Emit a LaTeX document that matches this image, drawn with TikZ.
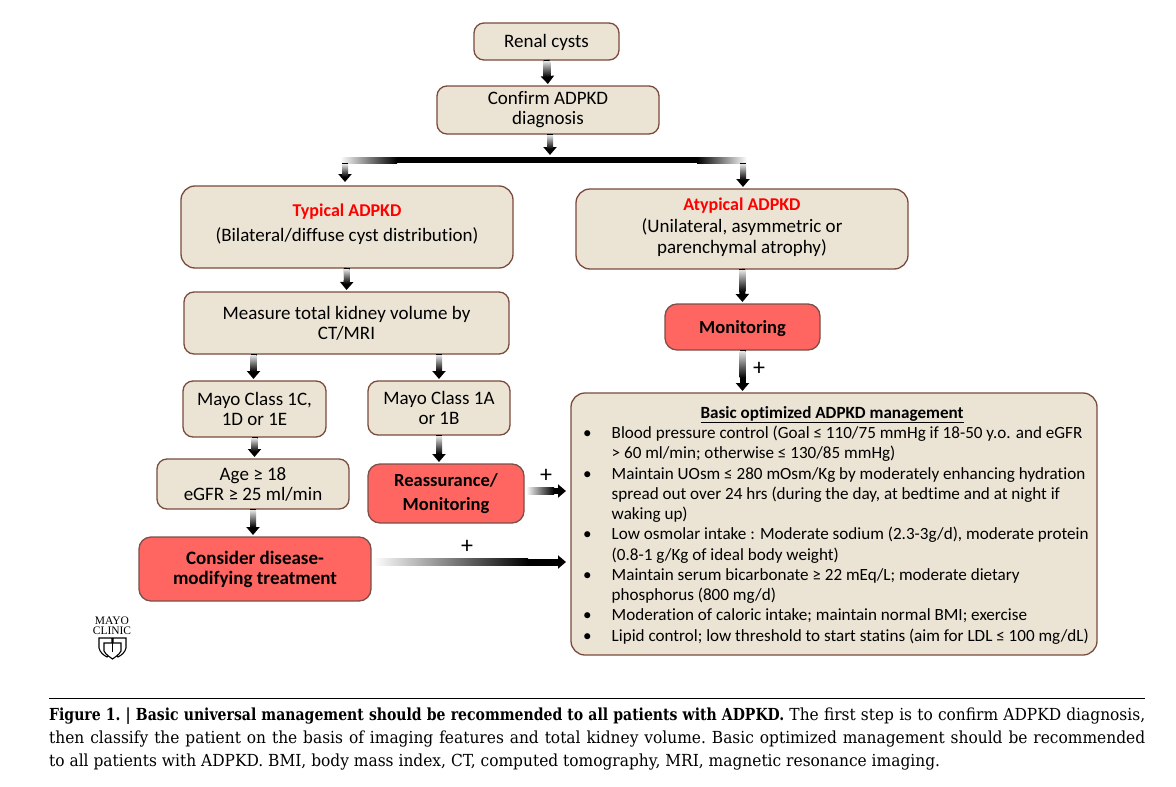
\documentclass[tikz,border=0pt]{standalone}
\usepackage{fontspec}
\setmainfont{Carlito}[Ligatures={NoCommon,NoContextual}]
\newfontfamily\capfont{DejaVu Serif}[FakeStretch=.93,BoldFeatures={FakeStretch=.845}]
\newfontfamily\logofont{Liberation Serif}
\usetikzlibrary{arrows.meta,calc}
\definecolor{boxfill}{HTML}{EBE4D4}
\definecolor{boxline}{HTML}{7A4A3C}
\definecolor{redfill}{HTML}{FF6661}
\definecolor{redline}{HTML}{7A5048}
\tikzset{
    box/.style={draw=boxline, fill=boxfill, line width=1.3pt, rounded corners=10pt, align=center,
        inner sep=0pt, outer sep=0pt, font=\fontsize{19}{20}\selectfont},
    bigbox/.style={box, rounded corners=14pt},
    redbox/.style={box, draw=redline, fill=redfill, rounded corners=12pt, font=\fontsize{18.5}{24}\selectfont\bfseries},
    flow/.style={line width=6pt, -{Triangle[width=13pt,length=8pt]}, shorten >=2pt},
    plus/.style={font=\fontsize{24}{24}\selectfont, inner sep=0pt},
    shield/.style={line width=1.1pt, fill=white}
}
\newcommand{\flowdown}[2]{
    \draw[flow] (#1) -- (#2);
    \shade[top color=gray!20, bottom color=black] ($(#1)+(-3,1)$) rectangle ($(#1)!.65!(#2)+(3,0)$);
}
\begin{document}
\begin{tikzpicture}[x=1pt, y=-1pt]
    \useasboundingbox (0,0) rectangle (1176,787);

    \node[box, minimum width=145, minimum height=37, text depth=2pt] (renal) at (546.5,41.5) {Renal cysts};
    \node[box, minimum width=222, minimum height=48] (confirm) at (548,110) {Confirm ADPKD\\diagnosis};
    \node[bigbox, minimum width=332, minimum height=82, text depth=8pt] (typical) at (347,227) {{\color{red}\bfseries\fontsize{18}{20}\selectfont Typical ADPKD}\\[5pt](Bilateral/diffuse cyst distribution)};
    \node[bigbox, minimum width=332, minimum height=80, text depth=6pt, font=\fontsize{19}{21.5}\selectfont] (atypical) at (742,229) {{\color{red}\bfseries\fontsize{18}{21.5}\selectfont Atypical ADPKD}\\(Unilateral, asymmetric or\\parenchymal atrophy)};
    \node[box, minimum width=325, minimum height=62] (measure) at (346.5,323) {Measure total kidney volume by\\CT/MRI};
    \node[box, minimum width=143, minimum height=56] (mayoC) at (254.5,409) {Mayo Class 1C,\\1D or 1E};
    \node[box, minimum width=142, minimum height=54] (mayoA) at (439,408) {Mayo Class 1A\\or 1B};
    \node[box, minimum width=192, minimum height=50] (age) at (253,484) {Age ≥ 18\\eGFR ≥ 25 ml/min};
    \node[redbox, minimum width=156, minimum height=59] (reassure) at (446,493.5) {Reassurance/\\Monitoring};
    \node[redbox, minimum width=232, minimum height=64, font=\fontsize{19}{20}\selectfont\bfseries] (consider) at (255,569) {Consider disease-\\modifying treatment};
    \node[redbox, minimum width=155, minimum height=46, text depth=0pt] (monitoring) at (742.5,327) {Monitoring};
    \node[bigbox, minimum width=526, minimum height=262] (basic) at (834,524) {};

    \node[font=\fontsize{17.1}{20.25}\selectfont, anchor=north west, inner sep=0pt] (basiclist) at (583,404) {\begin{tabular}{@{}l@{\hspace{20pt}}l@{}}
        \multicolumn{2}{@{}c@{}}{\hspace{-8pt}\bfseries\underline{Basic optimized ADPKD management}}\\
        • & Blood pressure control (Goal ≤ 110/75 mmHg if 18-50 y.o. and eGFR\\
          & > 60 ml/min; otherwise ≤ 130/85 mmHg)\\
        • & Maintain UOsm ≤ 280 mOsm/Kg by moderately enhancing hydration\\
          & spread out over 24 hrs (during the day, at bedtime and at night if\\
          & waking up)\\
        • & Low osmolar intake : Moderate sodium (2.3-3g/d), moderate protein\\
          & (0.8-1 g/Kg of ideal body weight)\\
        • & Maintain serum bicarbonate ≥ 22 mEq/L; moderate dietary\\
          & phosphorus (800 mg/d)\\
        • & Moderation of caloric intake; maintain normal BMI; exercise\\
        • & Lipid control; low threshold to start statins (aim for LDL ≤ 100 mg/dL)
    \end{tabular}};

    \coordinate (busmid) at (550,157);
    \coordinate (busleft) at (345,163);
    \coordinate (busright) at (743,163);
    \coordinate (leftend) at (345,184);
    \coordinate (rightend) at (743,189);
    \coordinate (reassureend) at (568,491);
    \coordinate (considerend) at (568,562);

    \flowdown{renal.south}{confirm.north}
    \flowdown{confirm.south -| busmid}{busmid}
    \shade[left color=white, right color=black] (340,157) rectangle (397,163);
    \fill[black] (397,157) rectangle (697,163);
    \shade[left color=black, right color=white] (697,157) rectangle (747,163);
    \flowdown{busleft}{leftend}
    \flowdown{busright}{rightend}
    \flowdown{typical.south}{measure.north}
    \flowdown{atypical.south}{monitoring.north}
    \flowdown{monitoring.south}{basic.north -| monitoring.south}
    \flowdown{$(measure.south -| mayoC.north)+(-1,0)$}{$(mayoC.north)+(-1,0)$}
    \flowdown{measure.south -| mayoA.north}{mayoA.north}
    \flowdown{mayoC.south}{age.north -| mayoC.south}
    \flowdown{mayoA.south}{reassure.north -| mayoA.south}
    \flowdown{age.south}{consider.north -| age.south}

    \draw[flow, shorten <=3pt] (reassure.east |- reassureend) -- (reassureend);
    \shade[left color=white, right color=black] ($(reassure.east |- reassureend)+(2,-3.2)$) rectangle ($(reassureend)+(-14,3.2)$);
    \draw[flow, line width=7pt, shorten <=3pt] (consider.east |- considerend) -- (considerend);
    \shade[left color=white, right color=black] ($(consider.east |- considerend)+(2,-3.7)$) rectangle ($(considerend)+(-40,3.7)$);

    \node[plus] (plusmon) at (759,369) {+};
    \node[plus] (plusre) at (546,476) {+};
    \node[plus] (pluscon) at (467,547) {+};

    \node[font=\logofont\fontsize{11.5}{10}\selectfont, align=center, inner sep=0pt] (logotext) at (112,626) {MAYO\\CLINIC};
    \draw[shield] (99,638) -- (112,638) -- (112,650) -- (107,657) .. controls (103,655) and (100,652) .. (99,648) -- cycle;
    \draw[shield] (113,638) -- (126,638) -- (126,648) .. controls (125,652) and (122,655) .. (118,657) -- (113,650) -- cycle;
    \draw[shield] (104,643) -- (121,643) -- (121,651) .. controls (119,655) and (115,657) .. (112.5,659) .. controls (110,657) and (106,655) .. (104,651) -- cycle;
    \draw[line width=1.1pt] (112.5,638) -- (112.5,652);

    \draw[line width=1pt] (49,698) -- (1145,698);
    \node[anchor=north west, inner sep=0pt, text width=1096, align=justify,
        font=\capfont\fontsize{16.6}{23}\selectfont\frenchspacing] (caption) at (49,708) {\textbf{Figure 1. | Basic universal management should be recommended to all patients with ADPKD.} The first step is to confirm ADPKD diagnosis,\linebreak then classify the patient on the basis of imaging features and total kidney volume. Basic optimized management should be recommended\linebreak to all patients with ADPKD. BMI, body mass index, CT, computed tomography, MRI, magnetic resonance imaging.};
\end{tikzpicture}
\end{document}
